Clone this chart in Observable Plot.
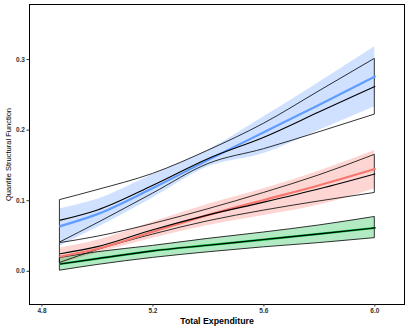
<!DOCTYPE html>
<html>
<head>
<meta charset="utf-8">
<script src="https://cdn.jsdelivr.net/npm/d3@7"></script>
<script src="https://cdn.jsdelivr.net/npm/@observablehq/plot@0.6"></script>
<style>
  html, body { margin: 0; padding: 0; background: #fff; }
  #chart { width: 409px; height: 327px; }
</style>
</head>
<body>
<div id="chart"></div>
<script>
// Total expenditure grid
const xs = [4.866, 5.0, 5.2, 5.4, 5.6, 5.8, 6.0];

// Blue group (coloured estimate and band)
const blueMean  = [0.064, 0.081, 0.118, 0.158, 0.197, 0.236, 0.276];
const blueUpper = [0.0885, 0.102, 0.137, 0.172, 0.219, 0.268, 0.318];
const blueLower = [0.036, 0.062, 0.104, 0.148, 0.167, 0.200, 0.233];
// Blue group (black estimate and band)
const blueBlackMean  = [0.0725, 0.087, 0.122, 0.160, 0.190, 0.226, 0.262];
const blueBlackUpper = [0.101, 0.115, 0.138, 0.171, 0.209, 0.255, 0.301];
const blueBlackLower = [0.041, 0.068, 0.110, 0.152, 0.173, 0.197, 0.222];

// Red group
const redMean  = [0.021, 0.032, 0.056, 0.080, 0.101, 0.122, 0.145];
const redUpper = [0.033, 0.044, 0.070, 0.095, 0.117, 0.142, 0.171];
const redLower = [0.010, 0.026, 0.047, 0.065, 0.079, 0.094, 0.117];
const redBlackMean  = [0.025, 0.035, 0.059, 0.080, 0.098, 0.117, 0.138];
const redBlackUpper = [0.040, 0.049, 0.067, 0.088, 0.111, 0.136, 0.165];
const redBlackLower = [0.012, 0.030, 0.052, 0.071, 0.086, 0.099, 0.111];

// Green group
const greenMean  = [0.0104, 0.018, 0.029, 0.037, 0.045, 0.053, 0.0615];
const greenUpper = [0.019, 0.027, 0.036, 0.046, 0.055, 0.065, 0.077];
const greenLower = [0.001, 0.009, 0.019, 0.027, 0.034, 0.040, 0.047];
const greenBlackMean  = greenMean;
const greenBlackUpper = greenUpper;
const greenBlackLower = greenLower;

const xTicks = [4.8, 5.2, 5.6, 6.0];
const yTicks = [0.0, 0.1, 0.2, 0.3];

const groups = [
  {name: "blue",  color: "#619CFF", m: blueMean,  u: blueUpper,  l: blueLower,
   bm: blueBlackMean, bu: blueBlackUpper, bl: blueBlackLower},
  {name: "red",   color: "#F8766D", m: redMean,   u: redUpper,   l: redLower,
   bm: redBlackMean, bu: redBlackUpper, bl: redBlackLower},
  {name: "green", color: "#00BA38", m: greenMean, u: greenUpper, l: greenLower,
   bm: greenBlackMean, bu: greenBlackUpper, bl: greenBlackLower}
];

const rows = [];
for (const g of groups) {
  xs.forEach((x, i) => rows.push({
    group: g.name, color: g.color, x,
    m: g.m[i], u: g.u[i], l: g.l[i],
    bm: g.bm[i], bu: g.bu[i], bl: g.bl[i]
  }));
}

const curve = "monotone-x";
const marks = [];
for (const g of groups) {
  const d = rows.filter(r => r.group === g.name);
  marks.push(Plot.areaY(d, {x: "x", y1: "l", y2: "u", fill: g.color, fillOpacity: 0.3, curve}));
}
for (const g of groups) {
  const d = rows.filter(r => r.group === g.name);
  marks.push(Plot.areaY(d, {x: "x", y1: "bl", y2: "bu", fill: "none", stroke: "black", strokeWidth: 0.8, curve}));
}
for (const g of groups) {
  const d = rows.filter(r => r.group === g.name);
  marks.push(Plot.lineY(d, {x: "x", y: "m", stroke: g.color, strokeWidth: 2.2, curve}));
}
for (const g of groups) {
  const d = rows.filter(r => r.group === g.name);
  marks.push(Plot.lineY(d, {x: "x", y: "bm", stroke: "black", strokeWidth: 1.1, curve}));
}

const chart = Plot.plot({
  width: 409,
  height: 327,
  marginLeft: 29,
  marginRight: 5,
  marginTop: 4,
  marginBottom: 23,
  style: {fontFamily: "Liberation Sans, Arial, sans-serif", background: "#fff"},
  x: {domain: [4.755, 6.107]},
  y: {domain: [-0.047, 0.378]},
  marks: [
    ...marks,
    Plot.frame({stroke: "black", strokeWidth: 1}),
    Plot.axisX({ticks: xTicks, tickFormat: d3.format(".1f"), tickSize: 2.5, tickPadding: 1.5,
      fontSize: 6.5, fontWeight: "bold", fill: "#333", stroke: "#333",
      label: "Total Expenditure", labelAnchor: "center", labelArrow: "none", labelOffset: 19}),
    Plot.axisY({ticks: yTicks, tickFormat: d3.format(".1f"), tickSize: 2.5, tickPadding: 2,
      fontSize: 6.5, fontWeight: "bold", fill: "#333", stroke: "#333",
      label: "Quantile Structural Function", labelAnchor: "center", labelArrow: "none", labelOffset: 24})
  ]
});

// style axis titles
chart.querySelectorAll("[aria-label='x-axis label'] text, [aria-label='y-axis label'] text").forEach(t => {
  t.setAttribute("fill", "black");
  t.style.fill = "black";
});
const xl = chart.querySelector("[aria-label='x-axis label']");
if (xl) { xl.setAttribute("font-size", "8.8"); xl.setAttribute("font-weight", "bold"); }
const yl = chart.querySelector("[aria-label='y-axis label']");
if (yl) { yl.setAttribute("font-size", "7.5"); yl.setAttribute("font-weight", "normal"); }

document.getElementById("chart").appendChild(chart);
</script>
</body>
</html>
